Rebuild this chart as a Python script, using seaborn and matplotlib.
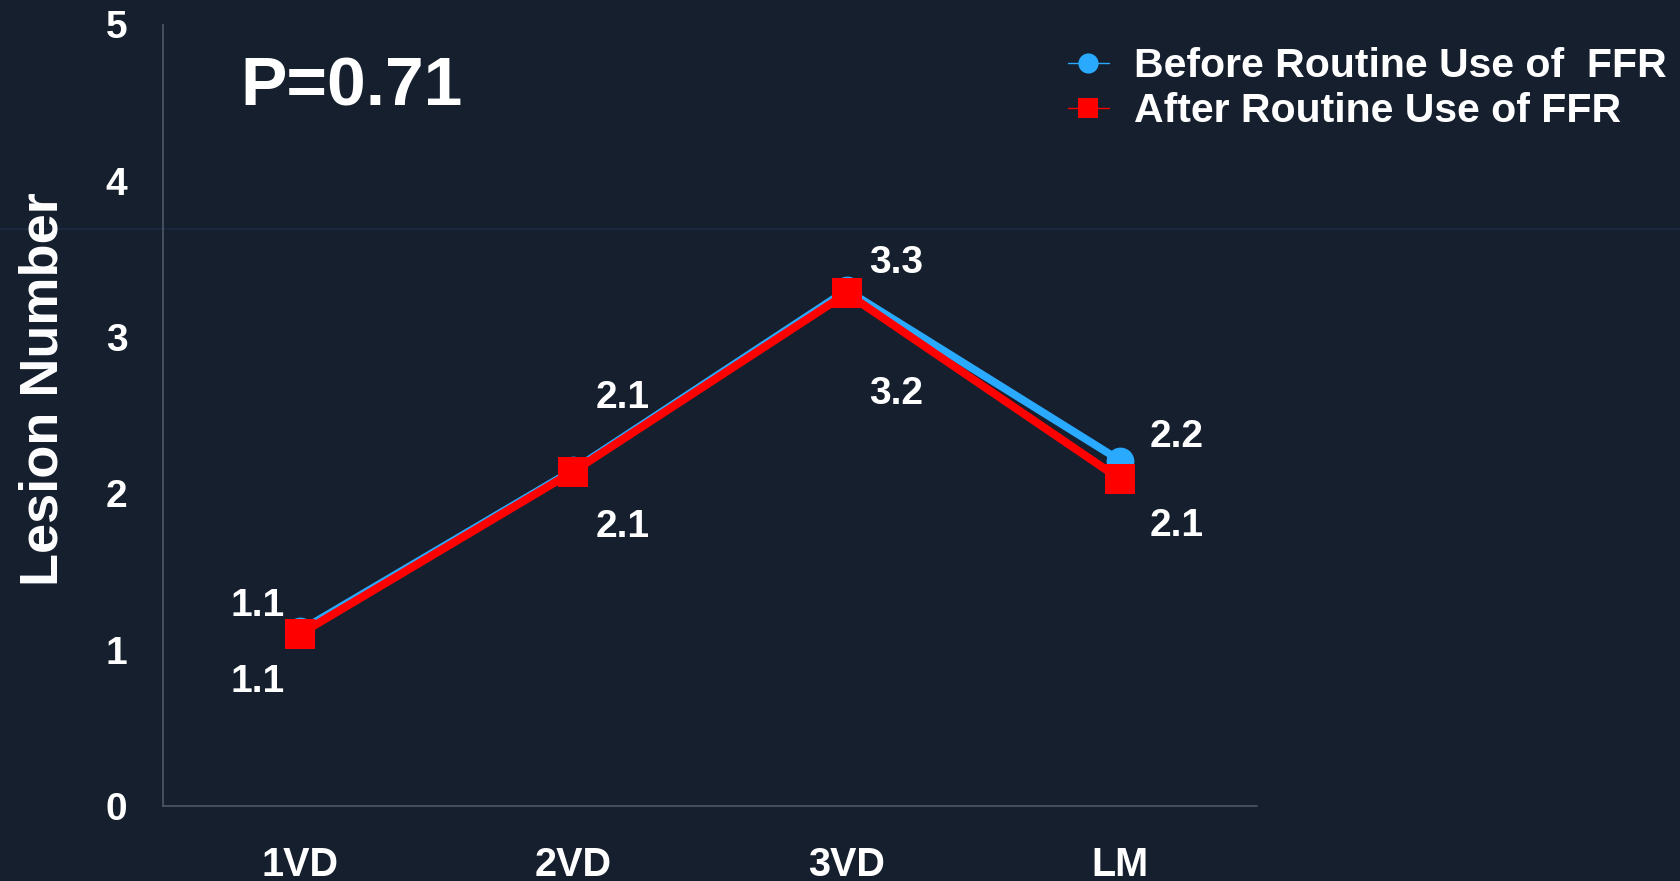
import pandas as pd
import matplotlib
matplotlib.use("Agg")
import matplotlib.pyplot as plt
from matplotlib.lines import Line2D
import seaborn as sns

# data
groups = ["1VD", "2VD", "3VD", "LM"]
before_ffr = [1.12, 2.15, 3.30, 2.21]
after_ffr = [1.10, 2.14, 3.28, 2.09]
before_labels = ["1.1", "2.1", "3.3", "2.2"]
after_labels = ["1.1", "2.1", "3.2", "2.1"]
series_names = ["Before Routine Use of  FFR", "After Routine Use of FFR"]
p_text = "P=0.71"

BG = "#161F2E"
AXIS = "#4B5463"
BLUE = "#29AAFF"
RED = "#FF0000"

# label offsets in pixels (dx, dy), relative to each point
before_offsets = [(-42, 25), (49, 72), (49, 27), (56, 24)]
after_offsets = [(-42, -48), (49, -55), (49, -101), (56, -47)]

sns.set_theme(style="white", rc={
    "axes.facecolor": BG, "figure.facecolor": BG,
    "axes.edgecolor": AXIS, "xtick.color": AXIS, "ytick.color": AXIS,
    "text.color": "white", "xtick.labelcolor": "white", "ytick.labelcolor": "white",
})
plt.rcParams["font.family"] = ["Liberation Sans", "DejaVu Sans"]
plt.rcParams["font.weight"] = "bold"

W, H = 1681, 881
fig = plt.figure(figsize=(W / 100, H / 100), dpi=100)
ax = fig.add_axes([163 / W, 1 - 806 / H, (1257 - 163) / W, (806 - 24.5) / H])
ax.patch.set_alpha(0)

# faint slide line behind everything
fig.add_artist(Line2D([0, 1], [1 - 228.5 / H] * 2, transform=fig.transFigure,
                      color="#1B2A44", lw=1.2, zorder=-5))

sns.lineplot(x=groups, y=before_ffr, ax=ax, color=BLUE, linewidth=5.6,
             marker="o", markersize=20, markeredgewidth=0, errorbar=None)
sns.lineplot(x=groups, y=after_ffr, ax=ax, color=RED, linewidth=5.8,
             marker="s", markersize=21, markeredgewidth=0, errorbar=None)

for i in range(len(groups)):
    ax.annotate(before_labels[i], (i, before_ffr[i]), xytext=before_offsets[i],
                textcoords="offset pixels", ha="center", va="center",
                fontsize=28, fontweight="bold", color="white")
    ax.annotate(after_labels[i], (i, after_ffr[i]), xytext=after_offsets[i],
                textcoords="offset pixels", ha="center", va="center",
                fontsize=28, fontweight="bold", color="white")

ax.set_xlim(-0.5, len(groups) - 0.5)
ax.set_ylim(0, 5)
ax.set_yticks(range(0, 6))
ax.set_xlabel("")
ax.set_ylabel("")

for s in ["top", "right"]:
    ax.spines[s].set_visible(False)
ax.spines["left"].set_linewidth(1.3)
ax.spines["bottom"].set_visible(False)
ax.spines["bottom"].set_position(("outward", 5))
ax.axhline(0, color=AXIS, lw=1.3, clip_on=False, zorder=1)

ax.tick_params(axis="y", direction="out", length=8.6, width=1.3, pad=17, labelsize=28)
ax.tick_params(axis="x", direction="out", length=7.5, width=1.3, pad=16.5, labelsize=28.5)
for lab in ax.get_xticklabels() + ax.get_yticklabels():
    lab.set_fontweight("bold")

fig.text(240 / W, 1 - 106 / H, p_text, fontsize=50, fontweight="bold",
         color="white", ha="left", va="baseline")
fig.text(58 / W, 1 - 389 / H, "Lesion Number", fontsize=39, fontweight="bold",
         color="white", rotation=90, rotation_mode="anchor",
         ha="center", va="baseline")

handles = [
    Line2D([], [], color=BLUE, lw=1, marker="o", markersize=14.5, markeredgewidth=0),
    Line2D([], [], color=RED, lw=1, marker="s", markersize=15, markeredgewidth=0),
]
fig.legend(handles, series_names, loc="upper left",
           bbox_to_anchor=(1068 / W, 1 - 47 / H), frameon=False,
           borderpad=0, borderaxespad=0, handlelength=1.0,
           handletextpad=0.62, labelspacing=0.18,
           prop={"weight": "bold", "size": 29.5})

fig.savefig("out.png", dpi=100, facecolor=BG)
